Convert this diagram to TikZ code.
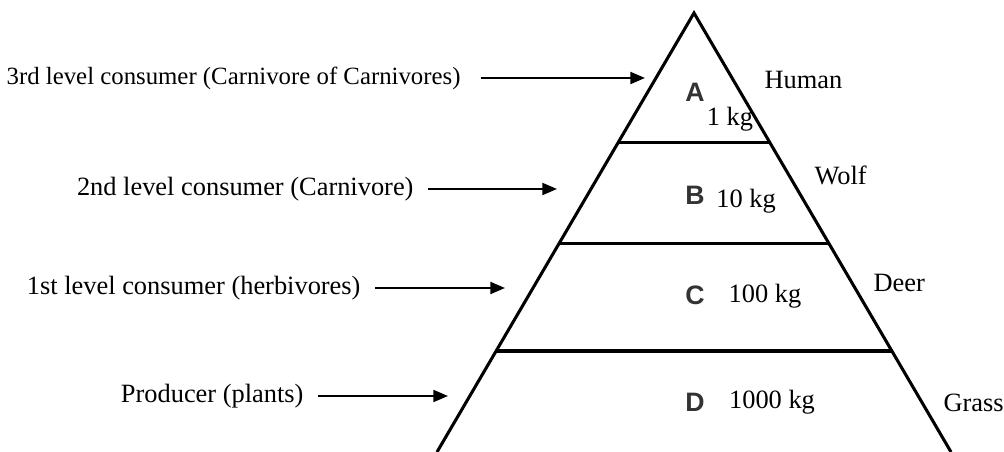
\documentclass[tikz,border=0pt]{standalone}
\usepackage{fontspec}
\setmainfont{Liberation Serif}
\newfontfamily\levelfont{Liberation Sans}
\usetikzlibrary{calc}
\usetikzlibrary{arrows.meta}
\tikzset{every picture/.style={line width=0.75pt}}
\tikzset{
  txt/.style={inner sep=0.75pt, font=\fontsize{19.8}{23}\selectfont},
  lvl/.style={inner sep=0.75pt, font=\levelfont\bfseries\fontsize{20}{23}\selectfont, color=black!80},
  side/.style={line width=2.3pt},
  ptr/.style={line width=1.5pt, shorten <=10pt, -{Triangle[length=11pt,width=9pt]}}
}

\begin{document}
\begin{tikzpicture}[x=0.75pt,y=0.75pt,yscale=-1,xscale=1]
\useasboundingbox (0,0) rectangle (1004,452);

%Pyramid corners
\coordinate (apex) at (694,13);
\coordinate (bl) at (437,452);
\coordinate (br) at (951,452);
%Straight Lines: sides
\draw [side] (bl) -- (apex) -- (br);
%Straight Lines: level borders
\draw [side] ($(apex)!0.294!(bl)$) -- ($(apex)!0.294!(br)$);
\draw [side] ($(apex)!0.524!(bl)$) -- ($(apex)!0.524!(br)$);
\draw [side] ($(apex)!0.770!(bl)$) -- ($(apex)!0.770!(br)$);

% Level letters
\node [lvl] (lvA) at (695,92) {A};
\node [lvl] (lvB) at (695,195) {B};
\node [lvl] (lvC) at (695,295) {C};
\node [lvl] (lvD) at (695,402) {D};

% Masses
\node [txt] (mA) at (730,119) {1 kg};
\node [txt] (mB) at (746,201) {10 kg};
\node [txt] (mC) at (765,296) {100 kg};
\node [txt] (mD) at (772,402) {1000 kg};

% Organisms
\node [txt, anchor=west] (human) at (763,80) {Human};
\node [txt, anchor=west] (wolf) at (813,175) {Wolf};
\node [txt, anchor=west] (deer) at (872,283) {Deer};
\node [txt, anchor=west] (grass) at (942,403) {Grass};

% Consumer labels
\node [txt, anchor=east, font=\fontsize{18.6}{22}\selectfont] (third) at (462,78) {3rd level consumer (Carnivore of Carnivores)};
\node [txt, anchor=east] (second) at (415,189) {2nd level consumer (Carnivore)};
\node [txt, anchor=east] (first) at (362,288) {1st level consumer (herbivores)};
\node [txt, anchor=east] (prod) at (305,396) {Producer (plants)};

% Arrow tips
\coordinate (tipA) at (645,78);
\coordinate (tipB) at (557,189);
\coordinate (tipC) at (505,288);
\coordinate (tipD) at (448,396);

%Straight Lines: pointers
\draw [ptr, shorten <=14pt] (third) -- (tipA);
\draw [ptr] (second) -- (tipB);
\draw [ptr] (first) -- (tipC);
\draw [ptr] (prod) -- (tipD);

\end{tikzpicture}
\end{document}
